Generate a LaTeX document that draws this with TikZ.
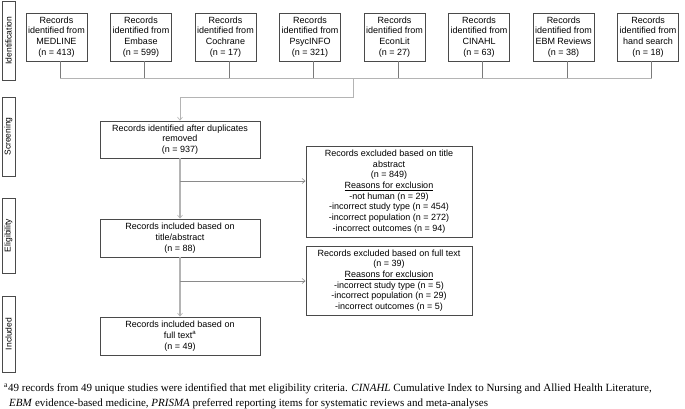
\documentclass[tikz,border=0pt]{standalone}
\usepackage{fontspec}
\setmainfont{Liberation Sans}
\newfontfamily\fnserif{Liberation Serif}
\usetikzlibrary{arrows.meta}
\definecolor{boxline}{HTML}{4A4A4A}
\definecolor{stubline}{HTML}{7A7A7A}
\definecolor{busline}{HTML}{B4B4B4}
\definecolor{branchline}{HTML}{8A8A8A}
\tikzset{
  flowbox/.style={draw=boxline, line width=0.9pt, fill=white, align=center, inner sep=0pt,
    font=\fontsize{9}{10.7}\selectfont},
  srcbox/.style={flowbox, minimum width=61pt, minimum height=48pt},
  midbox/.style={flowbox, minimum width=160pt, minimum height=38pt},
  exbox/.style={flowbox, minimum width=166pt},
  phase/.style={draw=boxline, line width=0.9pt, rotate=90, inner sep=0pt, minimum height=13pt,
    font=\fontsize{8.5}{9}\selectfont},
  stub/.style={draw=stubline, line width=0.7pt},
  bus/.style={draw=busline, line width=1pt},
  mainv/.style={draw=busline, line width=1.1pt, -{Straight Barb[length=3pt,width=5pt,line width=0.6pt]}},
  branch/.style={draw=branchline, line width=0.6pt, -{Straight Barb[length=3pt,width=5pt,line width=0.6pt]}},
  fntext/.style={anchor=base west, inner sep=0pt, font=\fnserif\fontsize{11}{12}\selectfont}
}
\begin{document}
\begin{tikzpicture}[x=1pt,y=-1pt]
\path[use as bounding box, fill=white] (0,0) rectangle (685,408);

% phase labels
\node[phase, minimum width=79pt] (pid) at (8.5,40.5) {Identification};
\node[phase, minimum width=79pt] (psc) at (8.5,136.5) {Screening};
\node[phase, minimum width=75pt] (pel) at (8.5,235.5) {Eligibility};
\node[phase, minimum width=76pt] (pin) at (8.5,334) {Included};

% source boxes
\node[srcbox] (s1) at (56.5,37) {Records\\identified from\\MEDLINE\\(n = 413)};
\node[srcbox] (s2) at (141,37) {Records\\identified from\\Embase\\(n = 599)};
\node[srcbox] (s3) at (225.5,37) {Records\\identified from\\Cochrane\\(n = 17)};
\node[srcbox] (s4) at (310,37) {Records\\identified from\\PsycINFO\\(n = 321)};
\node[srcbox] (s5) at (394.5,37) {Records\\identified from\\EconLit\\(n = 27)};
\node[srcbox] (s6) at (479,37) {Records\\identified from\\CINAHL\\(n = 63)};
\node[srcbox] (s7) at (563.5,37) {Records\\identified from\\EBM Reviews\\(n = 38)};
\node[srcbox] (s8) at (648,37) {Records\\identified from\\hand search\\(n = 18)};

% main boxes
\node[midbox, minimum height=37pt] (scr) at (180,139.5) {Records identified after duplicates\\removed\\(n = 937)};
\node[midbox] (elig) at (180,238) {Records included based on\\title/abstract\\(n = 88)};
\node[midbox] (incl) at (180,336) {Records included based on\\full text\textsuperscript{a}\\(n = 49)};

% exclusion boxes
\node[exbox, minimum height=91pt] (ex1) at (389,191.5) {Records excluded based on title\\abstract\\(n = 849)\\\underline{Reasons for exclusion}\\-not human (n = 29)\\-incorrect study type (n = 454)\\-incorrect population (n = 272)\\-incorrect outcomes (n = 94)};
\node[exbox, minimum height=69pt] (ex2) at (389,280.5) {Records excluded based on full text\\(n = 39)\\\underline{Reasons for exclusion}\\-incorrect study type (n = 5)\\-incorrect population (n = 29)\\-incorrect outcomes (n = 5)};

% bus
\coordinate (busL) at (60,78);
\coordinate (busR) at (652,78);
\coordinate (merge) at (353,78);
\draw[bus] (busL) -- (busR);
\foreach \s in {s1,s2,s3,s4,s5,s6,s7,s8}{
  \draw[stub] ([xshift=3.5pt]\s.south) -- ++(0,17);
}
\draw[bus, -{Straight Barb[length=3pt,width=5pt,line width=0.6pt]}] (merge) -- ++(0,19) -| (scr.north);

% main flow
\draw[mainv] (scr) -- (elig);
\draw[mainv] (elig) -- (incl);
\coordinate (br1) at (180,181);
\coordinate (br2) at (180,281);
\draw[branch] (br1) -- (br1 -| ex1.west);
\draw[branch] (br2) -- (br2 -| ex2.west);

% footnote
\node[fntext] (fn1) at (4,391) {\textsuperscript{a}49 records from 49 unique studies were identified that met eligibility criteria. \textit{CINAHL} Cumulative Index to Nursing and Allied Health Literature,};
\node[fntext] (fn2) at (9,406) {\textit{EBM} evidence-based medicine, \textit{PRISMA} preferred reporting items for systematic reviews and meta-analyses};
\end{tikzpicture}
\end{document}
